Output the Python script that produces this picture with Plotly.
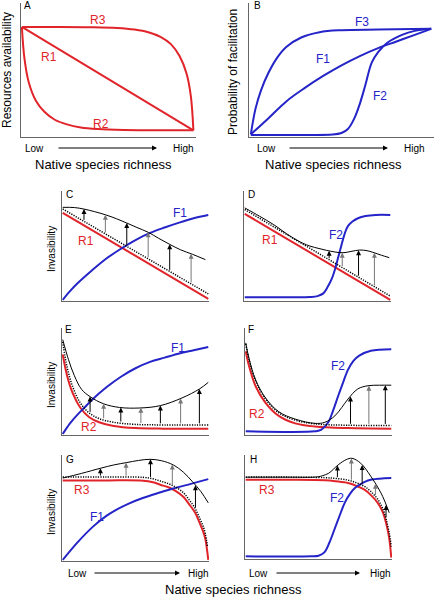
import numpy as np
import plotly.graph_objects as go

W, H = 435, 598
RED = "#e0242a"
BLUE = "#2424c8"
FONT = "Liberation Sans, Arial, Helvetica, sans-serif"

# ---------------- data (normalised panel coordinates) ----------------
# Panel A : resources availability
a_r1_x = [0.0, 0.99]
a_r1_y = [0.82, 0.04]
a_r2_x = [0.0, 0.015, 0.04, 0.08, 0.13, 0.19, 0.26, 0.34, 0.44, 0.59, 0.79, 0.99]
a_r2_y = [0.82, 0.58, 0.40, 0.265, 0.18, 0.12, 0.085, 0.062, 0.05, 0.043, 0.04, 0.04]
a_r3_x = [0.0, 0.2, 0.4, 0.55, 0.65, 0.73, 0.8, 0.86, 0.91, 0.95, 0.975, 0.99]
a_r3_y = [0.82, 0.82, 0.818, 0.812, 0.80, 0.78, 0.745, 0.69, 0.60, 0.47, 0.30, 0.04]

# Panel B : probability of facilitation
b_f1_x = [0.005, 0.1, 0.2, 0.3, 0.4, 0.5, 0.6, 0.7, 0.8, 0.9, 0.99]
b_f1_y = [0.01, 0.13, 0.26, 0.36, 0.45, 0.53, 0.60, 0.66, 0.71, 0.76, 0.805]
b_f2_x = [0.005, 0.3, 0.45, 0.5, 0.535, 0.57, 0.6, 0.63, 0.665, 0.7, 0.75, 0.83, 0.9, 0.99]
b_f2_y = [0.005, 0.005, 0.008, 0.02, 0.05, 0.13, 0.24, 0.38, 0.55, 0.63, 0.70, 0.76, 0.79, 0.805]
b_f3_x = [0.005, 0.03, 0.06, 0.1, 0.15, 0.2, 0.28, 0.38, 0.5, 0.7, 0.99]
b_f3_y = [0.01, 0.2, 0.34, 0.47, 0.59, 0.67, 0.74, 0.78, 0.795, 0.80, 0.805]

# Panel C : R1 + F1
c_r1_x = [0.0, 1.0]
c_r1_y = [0.80, 0.01]
c_dot_x = [0.0, 1.0]
c_dot_y = [0.835, 0.055]
c_inv_x = [0.0, 0.08, 0.146, 0.22, 0.293, 0.37, 0.44, 0.51, 0.587, 0.66, 0.735, 0.81, 0.893, 0.98]
c_inv_y = [0.85, 0.848, 0.834, 0.81, 0.782, 0.745, 0.706, 0.665, 0.621, 0.565, 0.51, 0.46, 0.418, 0.37]
c_f1_x = [0.0, 0.05, 0.1, 0.2, 0.3, 0.4, 0.5, 0.6, 0.7, 0.8, 0.9, 1.0]
c_f1_y = [0.0, 0.08, 0.15, 0.27, 0.38, 0.47, 0.55, 0.615, 0.665, 0.71, 0.75, 0.78]
c_arrow_x = [0.146, 0.293, 0.44, 0.587, 0.735, 0.882]

# Panel D : R1 + F2
d_r1_x = [0.0, 1.0]
d_r1_y = [0.79, 0.0]
d_dot_x = [0.0, 1.0]
d_dot_y = [0.83, 0.035]
d_inv_x = [0.0, 0.1, 0.2, 0.313, 0.40, 0.449, 0.51, 0.563, 0.62, 0.675, 0.73, 0.789, 0.84, 0.88, 0.94, 0.993]
d_inv_y = [0.845, 0.77, 0.69, 0.585, 0.52, 0.494, 0.472, 0.455, 0.44, 0.433, 0.445, 0.458, 0.452, 0.437, 0.41, 0.388]
d_f2_x = [0.0, 0.3, 0.45, 0.5, 0.54, 0.57, 0.6, 0.62, 0.64, 0.664, 0.69, 0.71, 0.74, 0.778, 0.83, 0.9, 1.0]
d_f2_y = [0.025, 0.025, 0.027, 0.035, 0.06, 0.12, 0.2, 0.28, 0.38, 0.5, 0.62, 0.68, 0.72, 0.75, 0.77, 0.78, 0.78]
d_arrow_x = [0.58, 0.67, 0.782, 0.891]

# Panel E : R2 + F1
e_r2_x = [0.0, 0.03, 0.07, 0.12, 0.18, 0.25, 0.35, 0.5, 0.7, 1.0]
e_r2_y = [0.75, 0.55, 0.38, 0.25, 0.16, 0.11, 0.075, 0.055, 0.05, 0.05]
e_dot_x = [0.0, 0.03, 0.07, 0.12, 0.18, 0.25, 0.35, 0.5, 0.7, 1.0]
e_dot_y = [0.87, 0.63, 0.44, 0.295, 0.20, 0.145, 0.11, 0.09, 0.085, 0.085]
e_inv_x = [0.0, 0.04, 0.08, 0.13, 0.19, 0.28, 0.39, 0.53, 0.67, 0.82, 0.94, 1.0]
e_inv_y = [0.89, 0.70, 0.55, 0.42, 0.35, 0.285, 0.25, 0.245, 0.267, 0.34, 0.425, 0.487]
e_f1_x = [0.0, 0.05, 0.1, 0.15, 0.2, 0.3, 0.4, 0.5, 0.6, 0.7, 0.8, 0.9, 1.0]
e_f1_y = [0.0, 0.1, 0.18, 0.25, 0.32, 0.44, 0.54, 0.62, 0.68, 0.72, 0.76, 0.79, 0.82]
e_arrow_x = [0.188, 0.281, 0.399, 0.537, 0.671, 0.81, 0.939]

# Panel F : R2 + F2
f_r2_x = [0.0, 0.023, 0.068, 0.136, 0.227, 0.34, 0.476, 0.7, 1.0]
f_r2_y = [0.78, 0.64, 0.45, 0.294, 0.17, 0.10, 0.07, 0.055, 0.05]
f_dot_x = [0.0, 0.023, 0.068, 0.136, 0.227, 0.34, 0.476, 0.7, 1.0]
f_dot_y = [0.85, 0.70, 0.50, 0.33, 0.20, 0.13, 0.095, 0.082, 0.08]
f_inv_x = [0.0, 0.023, 0.068, 0.136, 0.227, 0.34, 0.476, 0.544, 0.612, 0.66, 0.703, 0.77, 0.84, 0.92, 1.0]
f_inv_y = [0.86, 0.71, 0.51, 0.34, 0.21, 0.14, 0.10, 0.11, 0.17, 0.25, 0.33, 0.425, 0.455, 0.46, 0.46]
f_f2_x = [0.0, 0.476, 0.52, 0.567, 0.6, 0.635, 0.67, 0.703, 0.74, 0.78, 0.86, 1.0]
f_f2_y = [0.025, 0.025, 0.04, 0.11, 0.22, 0.358, 0.49, 0.607, 0.69, 0.74, 0.785, 0.80]
f_arrow_x = [0.72, 0.846, 0.959]

# Panel G : R3 + F1
g_r3_x = [0.0, 0.3, 0.553, 0.62, 0.67, 0.73, 0.78, 0.83, 0.87, 0.91, 0.94, 0.965, 0.98, 1.0]
g_r3_y = [0.758, 0.758, 0.755, 0.74, 0.717, 0.69, 0.654, 0.60, 0.528, 0.45, 0.355, 0.27, 0.2, 0.0]
g_dot_x = [0.0, 0.3, 0.553, 0.62, 0.67, 0.73, 0.78, 0.83, 0.87, 0.91, 0.94, 0.965, 0.98, 0.995]
g_dot_y = [0.79, 0.79, 0.787, 0.773, 0.752, 0.725, 0.69, 0.64, 0.57, 0.49, 0.40, 0.32, 0.25, 0.12]
g_inv_x = [0.0, 0.13, 0.26, 0.35, 0.44, 0.52, 0.6, 0.68, 0.76, 0.83, 0.89, 0.95, 1.0]
g_inv_y = [0.78, 0.825, 0.874, 0.905, 0.928, 0.948, 0.959, 0.945, 0.905, 0.835, 0.748, 0.65, 0.544]
g_f1_x = [0.0, 0.1, 0.21, 0.3, 0.37, 0.45, 0.55, 0.65, 0.76, 0.88, 1.0]
g_f1_y = [0.0, 0.165, 0.32, 0.42, 0.48, 0.535, 0.59, 0.635, 0.68, 0.725, 0.77]
g_arrow_x = [0.259, 0.435, 0.603, 0.753, 0.912]

# Panel H : R3 + F2
h_r3_x = [0.0, 0.3, 0.544, 0.62, 0.703, 0.76, 0.816, 0.86, 0.907, 0.94, 0.964, 0.985, 1.0]
h_r3_y = [0.76, 0.76, 0.755, 0.745, 0.728, 0.70, 0.663, 0.61, 0.535, 0.45, 0.343, 0.2, 0.003]
h_dot_x = [0.0, 0.3, 0.544, 0.62, 0.703, 0.76, 0.816, 0.86, 0.907, 0.94, 0.964, 0.985, 1.0]
h_dot_y = [0.785, 0.785, 0.78, 0.772, 0.756, 0.73, 0.695, 0.645, 0.57, 0.485, 0.38, 0.25, 0.11]
h_inv_x = [0.0, 0.3, 0.49, 0.53, 0.57, 0.635, 0.69, 0.73, 0.79, 0.86, 0.93, 0.986]
h_inv_y = [0.785, 0.785, 0.787, 0.80, 0.823, 0.904, 0.955, 0.968, 0.92, 0.792, 0.63, 0.439]
h_f2_x = [0.0, 0.45, 0.5, 0.54, 0.575, 0.61, 0.645, 0.68, 0.715, 0.75, 0.8, 0.84, 0.92, 1.0]
h_f2_y = [0.016, 0.016, 0.022, 0.054, 0.15, 0.279, 0.41, 0.535, 0.62, 0.679, 0.725, 0.753, 0.77, 0.776]
h_arrow_x = [0.63, 0.726, 0.80, 0.891, 0.964]

# ---------------- layout geometry (pixel boxes: left, right, top, bottom) ----------------
panels = [
    dict(box=(21, 196, 3, 137), lines=[(a_r1_x, a_r1_y, "red"), (a_r2_x, a_r2_y, "red"), (a_r3_x, a_r3_y, "red")],
         labels=[("R3", 0.44, 0.87, RED), ("R1", 0.154, 0.59, RED), ("R2", 0.457, 0.085, RED)], arrows=None),
    dict(box=(249, 434, 3, 137), lines=[(b_f1_x, b_f1_y, "blue"), (b_f2_x, b_f2_y, "blue"), (b_f3_x, b_f3_y, "blue")],
         labels=[("F3", 0.61, 0.86, BLUE), ("F1", 0.40, 0.575, BLUE), ("F2", 0.708, 0.30, BLUE)], arrows=None),
    dict(box=(62, 209, 191, 301), lines=[(c_r1_x, c_r1_y, "red"), (c_f1_x, c_f1_y, "blue"), (c_dot_x, c_dot_y, "dot"), (c_inv_x, c_inv_y, "black")],
         labels=[("R1", 0.163, 0.545, RED), ("F1", 0.803, 0.80, BLUE)], arrows=(c_arrow_x, c_dot_x, c_dot_y, c_inv_x, c_inv_y)),
    dict(box=(244, 391, 191, 301), lines=[(d_r1_x, d_r1_y, "red"), (d_f2_x, d_f2_y, "blue"), (d_dot_x, d_dot_y, "dot"), (d_inv_x, d_inv_y, "black")],
         labels=[("R1", 0.177, 0.548, RED), ("F2", 0.63, 0.60, BLUE)], arrows=(d_arrow_x, d_dot_x, d_dot_y, d_inv_x, d_inv_y)),
    dict(box=(62, 209, 328, 435), lines=[(e_r2_x, e_r2_y, "red"), (e_f1_x, e_f1_y, "blue"), (e_dot_x, e_dot_y, "dot"), (e_inv_x, e_inv_y, "black")],
         labels=[("F1", 0.79, 0.81, BLUE), ("R2", 0.179, 0.063, RED)], arrows=(e_arrow_x, e_dot_x, e_dot_y, e_inv_x, e_inv_y)),
    dict(box=(245, 392, 328, 435), lines=[(f_r2_x, f_r2_y, "red"), (f_f2_x, f_f2_y, "blue"), (f_dot_x, f_dot_y, "dot"), (f_inv_x, f_inv_y, "black")],
         labels=[("F2", 0.635, 0.638, BLUE), ("R2", 0.08, 0.187, RED)], arrows=(f_arrow_x, f_dot_x, f_dot_y, f_inv_x, f_inv_y)),
    dict(box=(62, 209, 455, 561), lines=[(g_r3_x, g_r3_y, "red"), (g_f1_x, g_f1_y, "blue"), (g_dot_x, g_dot_y, "dot"), (g_inv_x, g_inv_y, "black")],
         labels=[("R3", 0.134, 0.663, RED), ("F1", 0.236, 0.408, BLUE)], arrows=(g_arrow_x, g_dot_x, g_dot_y, g_inv_x, g_inv_y)),
    dict(box=(245, 392, 455, 559), lines=[(h_r3_x, h_r3_y, "red"), (h_f2_x, h_f2_y, "blue"), (h_dot_x, h_dot_y, "dot"), (h_inv_x, h_inv_y, "black")],
         labels=[("R3", 0.148, 0.657, RED), ("F2", 0.624, 0.584, BLUE)], arrows=(h_arrow_x, h_dot_x, h_dot_y, h_inv_x, h_inv_y)),
]

STYLE = {
    "red": dict(color=RED, width=2),
    "blue": dict(color=BLUE, width=2),
    "black": dict(color="black", width=1),
    "dot": dict(color="black", width=1.5, dash="1.2px,1.3px"),
}

fig = go.Figure()
layout = dict(width=W, height=H, margin=dict(l=0, r=0, t=0, b=0),
              paper_bgcolor="white", plot_bgcolor="white", showlegend=False,
              font=dict(family=FONT, color="black"))
annotations = []

for i, p in enumerate(panels, start=1):
    L, R, T, B = p["box"]
    xa = "x" if i == 1 else f"x{i}"
    ya = "y" if i == 1 else f"y{i}"
    axis_common = dict(showline=True, linecolor="#666", linewidth=1, showgrid=False, zeroline=False,
                       showticklabels=False, ticks="", fixedrange=True)
    layout["xaxis" if i == 1 else f"xaxis{i}"] = dict(domain=[L / W, R / W], range=[-0.005, 1.005],
                                                      anchor=ya, **axis_common)
    layout["yaxis" if i == 1 else f"yaxis{i}"] = dict(domain=[1 - B / H, 1 - T / H], range=[-0.01, 1.0],
                                                      anchor=xa, **axis_common)
    for (xs, ys, kind) in p["lines"]:
        fig.add_trace(go.Scatter(x=xs, y=ys, mode="lines", xaxis=xa, yaxis=ya, hoverinfo="skip",
                                 line=dict(shape="spline", smoothing=1.0, **STYLE[kind])))
    for (txt, lx, ly, col) in p["labels"]:
        annotations.append(dict(text=txt, x=lx, y=ly, xref=xa, yref=ya, showarrow=False,
                                font=dict(size=12, color=col, family=FONT)))
    if p["arrows"]:
        ax_list, dx, dy, ix, iy = p["arrows"]
        for k, axv in enumerate(ax_list):
            y0 = float(np.interp(axv, dx, dy))
            y1 = float(np.interp(axv, ix, iy))
            annotations.append(dict(text="", x=axv, y=y1, ax=axv, ay=y0, xref=xa, yref=ya,
                                    axref=xa, ayref=ya, showarrow=True, arrowhead=2, arrowsize=1,
                                    arrowwidth=1, standoff=0,
                                    arrowcolor="black" if k % 2 == 0 else "#777"))

def px_text(txt, x, y, size, angle=0, xanchor="center", yanchor="middle"):
    annotations.append(dict(text=txt, x=x / W, y=1 - y / H, xref="paper", yref="paper", showarrow=False,
                            textangle=angle, xanchor=xanchor, yanchor=yanchor,
                            font=dict(size=size, family=FONT, color="black")))

def px_arrow(x0, x1, y):
    annotations.append(dict(text="", x=x1 / W, y=1 - y / H, xref="paper", yref="paper",
                            ax=-(x1 - x0), ay=0, showarrow=True, arrowhead=2, arrowsize=1,
                            arrowwidth=1, arrowcolor="black"))

# panel letters
for letter, x, y in [("A", 22, 6), ("B", 252, 6), ("C", 64, 194), ("D", 246, 194),
                     ("E", 63, 329), ("F", 246, 329), ("G", 64, 459), ("H", 248, 459)]:
    px_text(letter, x, y, 10, xanchor="left")

# axis titles
px_text("Resources availability", 7, 70, 12, angle=-90)
px_text("Probability of facilitation", 233, 72, 12, angle=-90)
for yc in (249, 385, 512):
    px_text("Invasibility", 51, yc, 10, angle=-90)

# Low -> High rows
for (lx, a0, a1, hx, y) in [(34, 57, 157, 183, 148), (266, 288, 388, 414, 148),
                             (77, 93, 180, 198, 573), (258, 275, 360, 380, 573)]:
    px_text("Low", lx, y, 10)
    px_text("High", hx, y, 10)
    px_arrow(a0, a1, y)

px_text("Native species richness", 103, 164, 13)
px_text("Native species richness", 333, 164, 13)
px_text("Native species richness", 233, 589, 13)

layout["annotations"] = annotations
fig.update_layout(**layout)
fig.write_html("out.html", config={"displayModeBar": False},
               post_script="document.body.style.margin='0';document.body.style.padding='0';document.body.style.overflow='hidden';")
